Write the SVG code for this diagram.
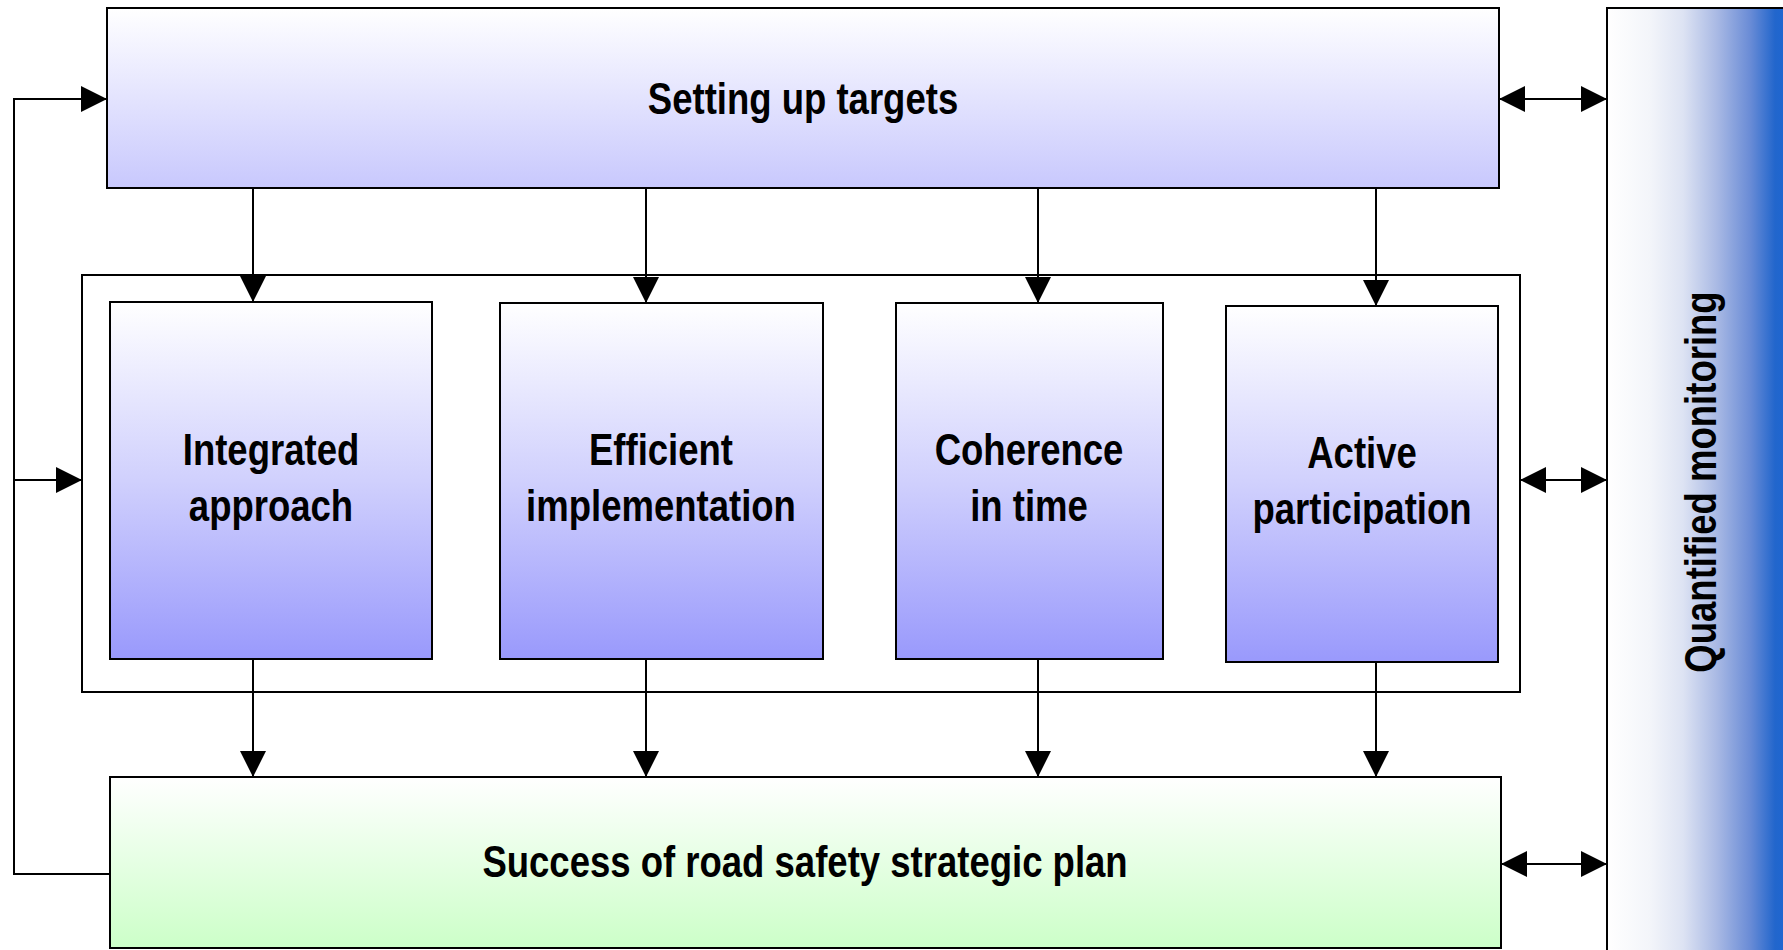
<svg xmlns="http://www.w3.org/2000/svg" width="1783" height="950" viewBox="0 0 1783 950">
  <style>
    .box { stroke: #000; stroke-width: 2; }
    .frame { fill: #fff; stroke: #000; stroke-width: 2; }
    .label { font-family: "Liberation Sans", Arial, sans-serif; font-weight: bold; font-size: 44px; fill: #000; text-anchor: middle; }
    .wire { fill: none; stroke: #000; stroke-width: 2; }
  </style>
  <defs>
    <linearGradient id="gTop" x1="0" y1="0" x2="0" y2="1">
      <stop offset="0" stop-color="#ffffff"/>
      <stop offset="1" stop-color="#c8c8fd"/>
    </linearGradient>
    <linearGradient id="gMid" x1="0" y1="0" x2="0" y2="1">
      <stop offset="0" stop-color="#ffffff"/>
      <stop offset="0.5" stop-color="#d0d0fd"/>
      <stop offset="1" stop-color="#9999fc"/>
    </linearGradient>
    <linearGradient id="gBottom" x1="0" y1="0" x2="0" y2="1">
      <stop offset="0" stop-color="#ffffff"/>
      <stop offset="1" stop-color="#ccffc8"/>
    </linearGradient>
    <linearGradient id="gSide" gradientUnits="userSpaceOnUse" x1="1607" y1="0" x2="1783" y2="0">
      <stop offset="0" stop-color="#ffffff"/>
      <stop offset="0.244" stop-color="#f3f5fa"/>
      <stop offset="0.432" stop-color="#dde3f3"/>
      <stop offset="0.625" stop-color="#a9b9e4"/>
      <stop offset="0.813" stop-color="#6a8cd6"/>
      <stop offset="0.955" stop-color="#2266cc"/>
      <stop offset="1" stop-color="#1f66d0"/>
    </linearGradient>
    <marker id="head" viewBox="0 0 26 26" refX="26" refY="13" markerWidth="26" markerHeight="26" markerUnits="userSpaceOnUse" orient="auto-start-reverse">
      <path d="M0,0 L26,13 L0,26 Z" fill="#000"/>
    </marker>
  </defs>

  <!-- monitoring bar on the right -->
  <g id="monitoring">
    <rect x="1607" y="8" width="190" height="960" fill="url(#gSide)" class="box"/>
    <text class="label" transform="translate(1716,482) rotate(-90) scale(0.83,1)">Quantified monitoring</text>
  </g>

  <!-- outer frame around the four principles -->
  <g id="principles">
    <rect class="frame" x="82" y="275" width="1438" height="417"/>
  </g>

  <!-- labels use a horizontally condensed bold face -->
  <g id="targets">
    <rect class="box" x="107" y="8" width="1392" height="180" fill="url(#gTop)"/>
    <text class="label" transform="matrix(0.83 0 0 1 803 114)">Setting up targets</text>
  </g>

  <g id="integrated">
    <rect class="box" x="110" y="302" width="322" height="357" fill="url(#gMid)"/>
    <text class="label" transform="matrix(0.83 0 0 1 271 465)">Integrated</text>
    <text class="label" transform="matrix(0.83 0 0 1 271 521)">approach</text>
  </g>

  <g id="efficient">
    <rect class="box" x="500" y="303" width="323" height="356" fill="url(#gMid)"/>
    <text class="label" transform="matrix(0.83 0 0 1 661 465)">Efficient</text>
    <text class="label" transform="matrix(0.83 0 0 1 661 521)">implementation</text>
  </g>

  <g id="coherence">
    <rect class="box" x="896" y="303" width="267" height="356" fill="url(#gMid)"/>
    <text class="label" transform="matrix(0.83 0 0 1 1029 465)">Coherence</text>
    <text class="label" transform="matrix(0.83 0 0 1 1029 521)">in time</text>
  </g>

  <g id="participation">
    <rect class="box" x="1226" y="306" width="272" height="356" fill="url(#gMid)"/>
    <text class="label" transform="matrix(0.83 0 0 1 1362 468)">Active</text>
    <text class="label" transform="matrix(0.83 0 0 1 1362 524)">participation</text>
  </g>

  <g id="success">
    <rect class="box" x="110" y="777" width="1391" height="171" fill="url(#gBottom)"/>
    <text class="label" transform="matrix(0.83 0 0 1 805 877)">Success of road safety strategic plan</text>
  </g>

  <g id="connectors">
    <!-- targets down to each principle -->
    <path class="wire" d="M253,188 V302" marker-end="url(#head)"/>
    <path class="wire" d="M646,188 V303" marker-end="url(#head)"/>
    <path class="wire" d="M1038,188 V303" marker-end="url(#head)"/>
    <path class="wire" d="M1376,188 V306" marker-end="url(#head)"/>
    <!-- principles down to success -->
    <path class="wire" d="M253,659 V777" marker-end="url(#head)"/>
    <path class="wire" d="M646,659 V777" marker-end="url(#head)"/>
    <path class="wire" d="M1038,659 V777" marker-end="url(#head)"/>
    <path class="wire" d="M1376,662 V777" marker-end="url(#head)"/>
    <!-- feedback loop on the left -->
    <path class="wire" d="M110,874 H14 V99 H107" marker-end="url(#head)"/>
    <path class="wire" d="M14,480 H82" marker-end="url(#head)"/>
    <!-- links to monitoring -->
    <path class="wire" d="M1499,99 H1607" marker-start="url(#head)" marker-end="url(#head)"/>
    <path class="wire" d="M1520,480 H1607" marker-start="url(#head)" marker-end="url(#head)"/>
    <path class="wire" d="M1501,864 H1607" marker-start="url(#head)" marker-end="url(#head)"/>
  </g>
</svg>
